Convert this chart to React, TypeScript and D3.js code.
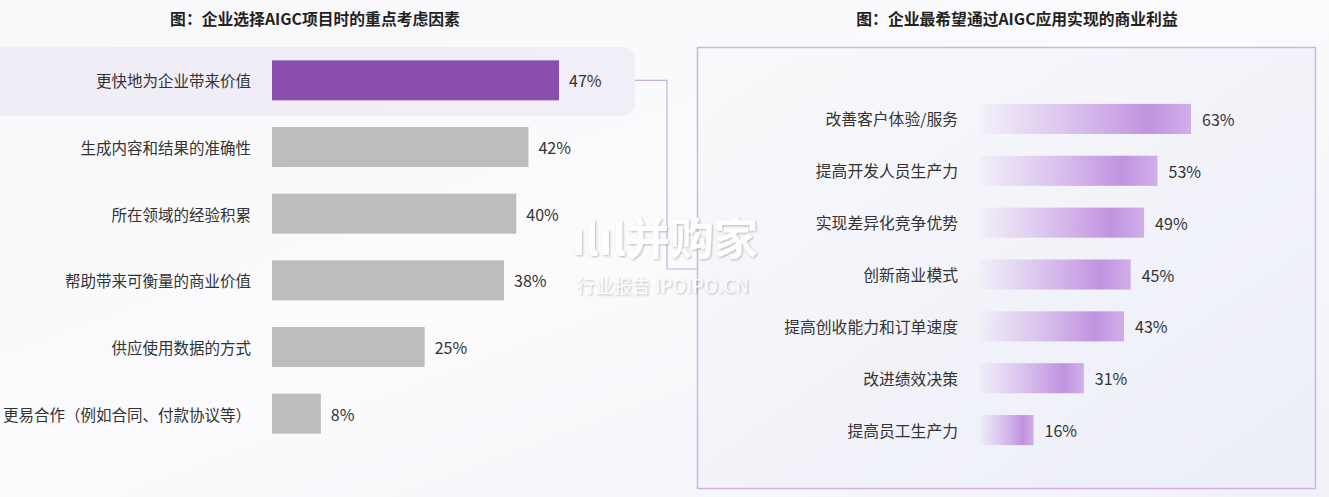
import React from "react";
import * as d3 from "d3";

const leftTitle = "图：企业选择AIGC项目时的重点考虑因素";
const leftCategories = [
  "更快地为企业带来价值",
  "生成内容和结果的准确性",
  "所在领域的经验积累",
  "帮助带来可衡量的商业价值",
  "供应使用数据的方式",
  "更易合作（例如合同、付款协议等）",
];
const leftValues = [47, 42, 40, 38, 25, 8];

const rightTitle = "图：企业最希望通过AIGC应用实现的商业利益";
const rightCategories = [
  "改善客户体验/服务",
  "提高开发人员生产力",
  "实现差异化竞争优势",
  "创新商业模式",
  "提高创收能力和订单速度",
  "改进绩效决策",
  "提高员工生产力",
];
const rightValues = [63, 53, 49, 45, 43, 31, 16];

const W = 1329;
const H = 497;
const FONT = "'Noto Sans CJK SC', 'Noto Sans', sans-serif";

export default function App() {
  // left chart scales
  const lx = d3.scaleLinear().domain([0, 47]).range([272, 559]);
  const ly = d3
    .scaleBand<string>()
    .domain(leftCategories)
    .range([47, 447])
    .paddingInner(0.4)
    .paddingOuter(0.2);

  // right chart scales
  const rx = d3.scaleLinear().domain([0, 63]).range([980, 1191]);
  const ry = d3
    .scaleBand<string>()
    .domain(rightCategories)
    .range([93, 456])
    .paddingInner(0.42)
    .paddingOuter(0.21);

  const firstCy = (ly(leftCategories[0]) ?? 0) + ly.bandwidth() / 2;

  return (
    <div style={{ position: "absolute", left: 0, top: 0, width: W, height: H }}>
      <svg width={W} height={H} style={{ display: "block", fontFamily: FONT }}>
        <defs>
          <linearGradient id="bg" x1="0" y1="0" x2="1" y2="1">
            <stop offset="0" stopColor="#f8f8fa" />
            <stop offset="0.5" stopColor="#fbfbfd" />
            <stop offset="1" stopColor="#f1f1f8" />
          </linearGradient>
          <linearGradient id="boxbg" x1="0" y1="0" x2="1" y2="1">
            <stop offset="0" stopColor="#f9f9fb" />
            <stop offset="1" stopColor="#eceef8" />
          </linearGradient>
          <linearGradient id="barGrad" x1="0" y1="0" x2="1" y2="0">
            <stop offset="0" stopColor="#c597e3" stopOpacity="0.05" />
            <stop offset="0.35" stopColor="#c597e3" stopOpacity="0.45" />
            <stop offset="0.8" stopColor="#bf8ddf" stopOpacity="0.95" />
            <stop offset="1" stopColor="#c9a3e6" stopOpacity="0.85" />
          </linearGradient>
          <filter id="wmShadow" x="-10%" y="-10%" width="120%" height="130%">
            <feDropShadow dx="1" dy="1" stdDeviation="1.2" floodColor="#888" floodOpacity="0.6" />
          </filter>
        </defs>
        <rect x={0} y={0} width={W} height={H} fill="url(#bg)" />

        {/* Left chart */}
        <text x={315} y={25} textAnchor="middle" fontSize={15.8} fontWeight={700} fill="#222">
          {leftTitle}
        </text>
        <rect x={-10} y={47} width={645} height={69} rx={12} fill="#efebf6" opacity={0.85} />
        {leftCategories.map((c, i) => {
          const y = ly(c) ?? 0;
          const cy = y + ly.bandwidth() / 2;
          return (
            <g key={c}>
              <text x={251} y={cy} textAnchor="end" dominantBaseline="central" fontSize={15.5} fill="#333">
                {c}
              </text>
              <rect
                x={lx(0)}
                y={y}
                width={lx(leftValues[i]) - lx(0)}
                height={ly.bandwidth()}
                fill={i === 0 ? "#8a4fae" : "#bdbdbd"}
              />
              <text
                x={lx(leftValues[i]) + 10}
                y={cy}
                dominantBaseline="central"
                fontSize={16}
                fill="#333"
              >
                {leftValues[i]}%
              </text>
            </g>
          );
        })}

        {/* connector */}
        <path
          d={`M635,${firstCy} H667 V269 H697`}
          fill="none"
          stroke="#c5b0e0"
          strokeWidth={1.2}
        />

        {/* Right chart */}
        <text x={1017} y={25} textAnchor="middle" fontSize={15.8} fontWeight={700} fill="#222">
          {rightTitle}
        </text>
        <rect x={697.5} y={47.5} width={618} height={441} fill="url(#boxbg)" stroke="#cfb3e6" strokeWidth={1.5} />
        {rightCategories.map((c, i) => {
          const y = ry(c) ?? 0;
          const cy = y + ry.bandwidth() / 2;
          return (
            <g key={c}>
              <text x={958} y={cy} textAnchor="end" dominantBaseline="central" fontSize={15.8} fill="#333">
                {c}
              </text>
              <rect
                x={rx(0)}
                y={y}
                width={rx(rightValues[i]) - rx(0)}
                height={ry.bandwidth()}
                fill="url(#barGrad)"
              />
              <text
                x={rx(rightValues[i]) + 11}
                y={cy}
                dominantBaseline="central"
                fontSize={16}
                fill="#333"
              >
                {rightValues[i]}%
              </text>
            </g>
          );
        })}

        {/* Watermark */}
        <g filter="url(#wmShadow)" opacity={0.95}>
          <text x={665} y={255} textAnchor="middle" fontSize={44} fontWeight={700} fill="#ffffff">
            ılıl并购家
          </text>
          <text x={663} y={293} textAnchor="middle" fontSize={18} fill="#ffffff" letterSpacing={0.5}>
            行业报告 IPOIPO.CN
          </text>
        </g>
      </svg>
    </div>
  );
}
